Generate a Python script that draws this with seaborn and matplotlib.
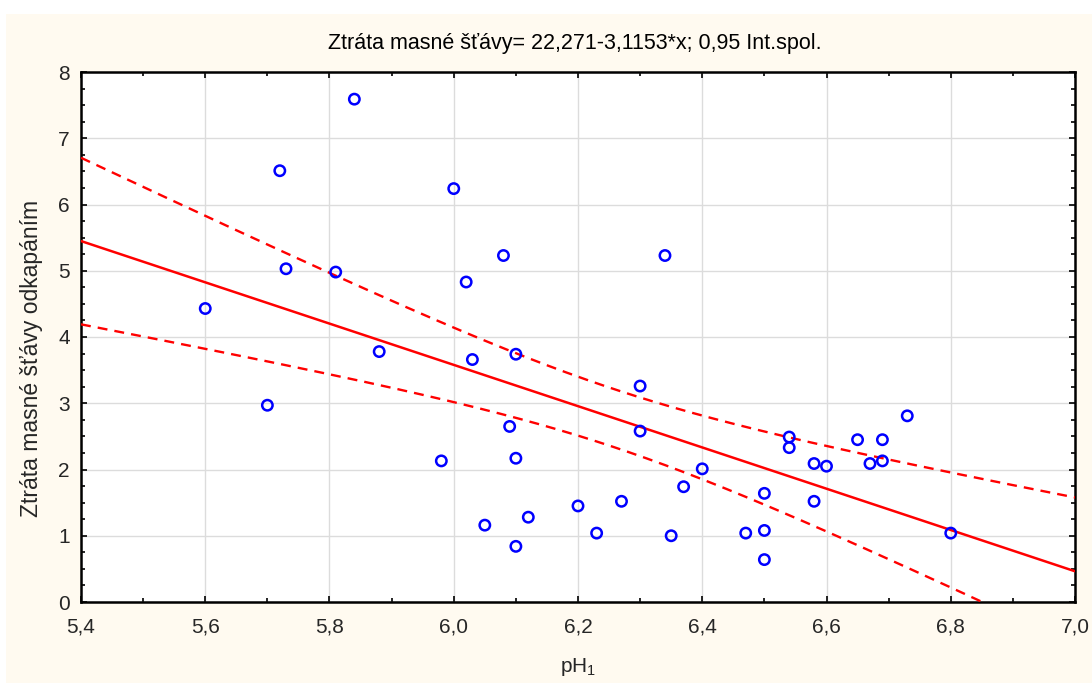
import numpy as np
import pandas as pd
import matplotlib
matplotlib.use("Agg")
import matplotlib.pyplot as plt
from matplotlib.patches import Rectangle
from matplotlib.ticker import MultipleLocator
import seaborn as sns

# pH1 a ztráta masné šťávy odkapáním
ph = [5.60, 5.72, 5.84, 5.73, 5.81, 5.70, 5.88, 6.00, 6.02, 6.08,
      6.34, 6.03, 6.10, 5.98, 6.09, 6.10, 6.05, 6.12, 6.10,
      6.30, 6.30, 6.20, 6.23, 6.27, 6.35, 6.37, 6.40, 6.47, 6.50,
      6.50, 6.50, 6.54, 6.54, 6.58, 6.58, 6.60, 6.65, 6.67, 6.69,
      6.69, 6.73, 6.80]
ztrata = [4.43, 6.51, 7.59, 5.03, 4.98, 2.97, 3.78, 6.24, 4.83, 5.23,
          5.23, 3.66, 3.74, 2.13, 2.65, 2.17, 1.16, 1.28, 0.84,
          3.26, 2.58, 1.45, 1.04, 1.52, 1.00, 1.74, 2.01, 1.04, 1.64,
          1.08, 0.64, 2.49, 2.33, 2.09, 1.52, 2.05, 2.45, 2.09, 2.45,
          2.13, 2.81, 1.04]

# koeficienty z titulku
intercept = 22.271
slope = -3.1153
t_crit = 2.021  # t(0.975, 40)

x_ticks = [5.4, 5.6, 5.8, 6.0, 6.2, 6.4, 6.6, 6.8, 7.0]
x_labels = ["5,4", "5,6", "5,8", "6,0", "6,2", "6,4", "6,6", "6,8", "7,0"]
y_ticks = [0, 1, 2, 3, 4, 5, 6, 7, 8]
y_labels = ["0", "1", "2", "3", "4", "5", "6", "7", "8"]

df = pd.DataFrame({"ph": ph, "ztrata": ztrata})

# regresni primka a 95% pas spolehlivosti
xs = np.linspace(5.4, 7.0, 300)
fit = intercept + slope * xs
res = df["ztrata"] - (intercept + slope * df["ph"])
n = len(df)
s = np.sqrt((res ** 2).sum() / (n - 2))
xm = df["ph"].mean()
sxx = ((df["ph"] - xm) ** 2).sum()
half = t_crit * s * np.sqrt(1 / n + (xs - xm) ** 2 / sxx)
line_df = pd.DataFrame({"x": xs, "fit": fit, "lo": fit - half, "hi": fit + half})

sns.set_theme(style="white")
plt.rcParams["font.family"] = ["Liberation Sans", "DejaVu Sans"]

fig = plt.figure(figsize=(10.92, 6.83), dpi=100, facecolor="white")
fig.add_artist(Rectangle((6 / 1092, 0), 1, 1 - 14 / 683, transform=fig.transFigure,
                         facecolor="#fffaf0", edgecolor="none", zorder=-10))
ax = fig.add_axes([81 / 1092, 1 - 602 / 683, 994 / 1092, 530 / 683])
ax.set_facecolor("white")

sns.lineplot(data=line_df, x="x", y="fit", ax=ax, color="#ff0000", linewidth=1.8, zorder=3)
sns.lineplot(data=line_df, x="x", y="hi", ax=ax, color="#ff0000", linewidth=1.7,
             zorder=3).lines[-1].set_dashes((4.2, 3))
sns.lineplot(data=line_df, x="x", y="lo", ax=ax, color="#ff0000", linewidth=1.7,
             zorder=3).lines[-1].set_dashes((4.2, 3))
sns.scatterplot(data=df, x="ph", y="ztrata", ax=ax, marker="o", s=56,
                facecolor="none", edgecolor="#0000ff", linewidth=1.8, zorder=4)

ax.set_xlim(5.4, 7.0)
ax.set_ylim(0, 8)
ax.set_xticks(x_ticks)
ax.set_xticklabels(x_labels)
ax.set_yticks(y_ticks)
ax.set_yticklabels(y_labels)
ax.xaxis.set_minor_locator(MultipleLocator(0.1))
ax.yaxis.set_minor_locator(MultipleLocator(0.25))
ax.grid(True, which="major", color="#dcdcdc", linewidth=1)
ax.set_axisbelow(True)
ax.tick_params(which="both", direction="in", top=True, right=True, bottom=True, left=True,
               color="black", width=1.2)
ax.tick_params(which="major", length=4, labelsize=15)
ax.tick_params(which="minor", length=3)
ax.tick_params(axis="x", which="major", pad=11)
ax.tick_params(axis="y", which="major", pad=8)
for sp in ax.spines.values():
    sp.set_color("black")
    sp.set_linewidth(1.8)

ax.set_xlabel("pH$_\\mathregular{1}$", fontsize=15)
ax.set_ylabel("Ztráta masné šťávy odkapáním", fontsize=16.5)
ax.xaxis.set_label_coords(0.5, -(656 - 602) / 530)
ax.yaxis.set_label_coords(-(81 - 43) / 994, (602 - 358) / 530)

fig.text(575 / 1092, 1 - 44 / 683, "Ztráta masné šťávy= 22,271-3,1153*x; 0,95 Int.spol.",
         ha="center", va="center", fontsize=15.5, color="black")

fig.savefig("out.png", dpi=100, facecolor=fig.get_facecolor())
